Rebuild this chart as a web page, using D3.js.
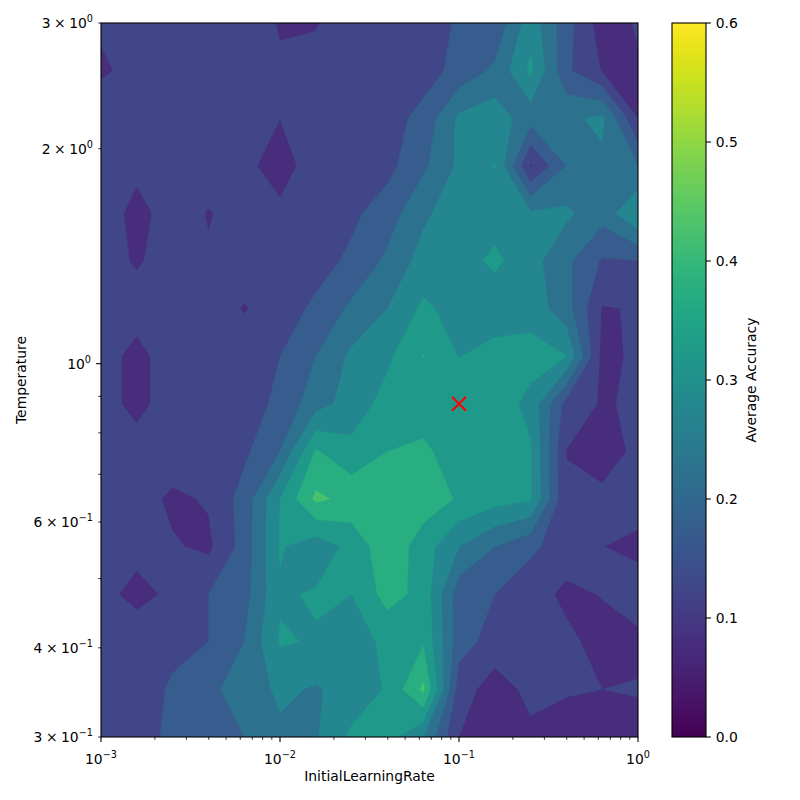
<!DOCTYPE html>
<html><head><meta charset="utf-8">
<script src="https://cdn.jsdelivr.net/npm/d3@7"></script>
<style>body{margin:0;background:#fff} text{font-family:"DejaVu Sans",sans-serif;fill:#000}</style>
</head><body><svg id="c" width="800" height="800"></svg>
<script>
// ---- data ----
const learningRates = [0.001, 0.001585, 0.002512, 0.003981, 0.00631, 0.01, 0.01585, 0.02512, 0.03981, 0.0631, 0.1, 0.1585, 0.2512, 0.3981, 0.631, 1];
const temperatures = [0.3, 0.3498, 0.4078, 0.4755, 0.5543, 0.6463, 0.7536, 0.8786, 1.0244, 1.1943, 1.3925, 1.6235, 1.8929, 2.2069, 2.5731, 3.0];
// average accuracy, one array per temperature (ascending), columns follow learningRates
const accT00 = [.12, .13, .161, .18, .2, .24, .245, .31, .32, .25, .1, .07, .089, .08, .075, .08];
const accT01 = [.12, .12, .158, .19, .22, .26, .245, .27, .305, .41, .125, .075, .114, .104, .1, .104];
const accT02 = [.1, .13, .135, .15, .2, .305, .296, .28, .31, .345, .17, .13, .12, .11, .085, .086];
const accT03 = [.115, .085, .11, .15, .18, .294, .305, .3, .37, .334, .17, .15, .12, .09, .102, .13];
const accT04 = [.12, .115, .105, .09, .17, .305, .27, .315, .385, .326, .25, .2, .16, .125, .101, .085];
const accT05 = [.12, .123, .09, .105, .17, .3, .41, .385, .38, .375, .345, .32, .305, .105, .11, .127];
const accT06 = [.12, .122, .13, .135, .14, .2, .355, .315, .35, .365, .31, .33, .305, .099, .08, .11];
const accT07 = [.12, .085, .125, .125, .13, .16, .23, .27, .32, .31, .352, .33, .285, .13, .095, .108];
const accT08 = [.12, .085, .125, .125, .125, .15, .2, .26, .29, .352, .298, .32, .32, .3, .085, .11];
const accT09 = [.101, .12, .125, .125, .097, .125, .16, .21, .25, .31, .28, .27, .28, .22, .097, .103];
const accT10 = [.12, .095, .12, .105, .12, .125, .13, .16, .21, .27, .28, .31, .27, .21, .145, .15];
const accT11 = [.135, .08, .128, .097, .12, .115, .13, .14, .175, .24, .28, .28, .257, .26, .22, .3];
const accT12 = [.12, .115, .12, .125, .117, .07, .134, .14, .135, .19, .26, .302, .095, .2, .24, .2];
const accT13 = [.14, .125, .125, .125, .12, .101, .12, .125, .13, .165, .26, .28, .22, .24, .26, .1];
const accT14 = [.09, .12, .125, .125, .12, .105, .11, .12, .125, .13, .165, .21, .31, .16, .097, .095];
const accT15 = [.11, .12, .12, .12, .122, .097, .098, .12, .125, .13, .155, .16, .28, .17, .075, .105];
const bestLR = 0.1, bestT = 0.8786;
const levels = [0, 0.05, 0.1, 0.15, 0.2, 0.25, 0.3, 0.35, 0.4, 0.45, 0.5, 0.55];
const colorbarTicks = [0, 0.1, 0.2, 0.3, 0.4, 0.5, 0.6];
const xMajor = [0.001, 0.01, 0.1, 1];
const xMajorLabels = [["10", "\u22123"], ["10", "\u22122"], ["10", "\u22121"], ["10", "0"]];
const yTicksLabeled = [0.3, 0.4, 0.6, 1, 2, 3];
const yTickLabels = [["3\u2005\u00d7\u200510", "\u22121"], ["4\u2005\u00d7\u200510", "\u22121"], ["6\u2005\u00d7\u200510", "\u22121"], ["10", "0"], ["2\u2005\u00d7\u200510", "0"], ["3\u2005\u00d7\u200510", "0"]];
const yMinorUnlabeled = [0.5, 0.7, 0.8, 0.9];

const rows = [accT00, accT01, accT02, accT03, accT04, accT05, accT06, accT07, accT08, accT09, accT10, accT11, accT12, accT13, accT14, accT15];

// ---- layout ----
const svg = d3.select("#c");
const L = 101, R = 638, T = 23, B = 737;
const x = d3.scaleLog().domain([0.001, 1]).range([L, R]);
const y = d3.scaleLog().domain([0.3, 3]).range([B, T]);
const vmax = 0.6;
const color = v => d3.interpolateViridis(v / vmax);

// padded grid for contouring
const nx = learningRates.length, ny = temperatures.length;
const W = nx + 2, H = ny + 2;
const grid = new Array(W * H);
for (let j = 0; j < H; j++) for (let i = 0; i < W; i++) {
  const si = Math.min(nx - 1, Math.max(0, i - 1));
  const sj = Math.min(ny - 1, Math.max(0, j - 1));
  grid[j * W + i] = rows[sj][si];
}
const lx0 = Math.log10(learningRates[0]), lxs = (Math.log10(learningRates[nx - 1]) - lx0) / (nx - 1);
const ly0 = Math.log10(temperatures[0]), lys = (Math.log10(temperatures[ny - 1]) - ly0) / (ny - 1);
const proj = d3.geoTransform({
  point: function (cx, cy) {
    const gx = cx - 1.5, gy = cy - 1.5;
    this.stream.point(x(Math.pow(10, lx0 + gx * lxs)), y(Math.pow(10, ly0 + gy * lys)));
  }
});
const path = d3.geoPath(proj);
const contours = d3.contours().size([W, H]).thresholds(levels)(grid);

svg.append("clipPath").attr("id", "clip").append("rect")
  .attr("x", L).attr("y", T).attr("width", R - L).attr("height", B - T);
const g = svg.append("g").attr("clip-path", "url(#clip)");
contours.forEach(c => {
  if (!c.coordinates.length) return;
  g.append("path").attr("d", path(c))
    .attr("fill", color(c.value + 0.025))
    .attr("stroke", color(c.value + 0.025)).attr("stroke-width", 0.3);
});

// best point marker
const bx = x(bestLR), by = y(bestT), ms = 7;
svg.append("path").attr("d", `M${bx - ms},${by - ms}L${bx + ms},${by + ms}M${bx - ms},${by + ms}L${bx + ms},${by - ms}`)
  .attr("stroke", "red").attr("stroke-width", 2).attr("fill", "none");

// frame
svg.append("rect").attr("x", L).attr("y", T).attr("width", R - L).attr("height", B - T)
  .attr("fill", "none").attr("stroke", "#000").attr("stroke-width", 1.1);

const FS = 13.9, SFS = 9.7;
function supText(sel, base, sup) {
  sel.append("tspan").text(base);
  sel.append("tspan").attr("font-size", SFS).attr("dy", -6).text(sup);
}

// x ticks
const xMinor = [];
[-3, -2, -1].forEach(d => { for (let m = 2; m <= 9; m++) xMinor.push(m * Math.pow(10, d)); });
const xa = svg.append("g");
xMajor.forEach((v, i) => {
  xa.append("line").attr("x1", x(v)).attr("x2", x(v)).attr("y1", B).attr("y2", B + 4.9).attr("stroke", "#000").attr("stroke-width", 1.1);
  const t = xa.append("text").attr("x", x(v)).attr("y", 764).attr("font-size", FS).attr("text-anchor", "middle");
  supText(t, xMajorLabels[i][0], xMajorLabels[i][1]);
});
xMinor.forEach(v => {
  xa.append("line").attr("x1", x(v)).attr("x2", x(v)).attr("y1", B).attr("y2", B + 2.8).attr("stroke", "#000").attr("stroke-width", 0.8);
});

// y ticks
const ya = svg.append("g");
yTicksLabeled.forEach((v, i) => {
  const major = v === 1;
  ya.append("line").attr("x1", L).attr("x2", L - (major ? 4.9 : 2.8)).attr("y1", y(v)).attr("y2", y(v)).attr("stroke", "#000").attr("stroke-width", major ? 1.1 : 0.8);
  const t = ya.append("text").attr("x", major ? 91 : 93).attr("y", y(v) + 5).attr("font-size", FS).attr("text-anchor", "end");
  supText(t, yTickLabels[i][0], yTickLabels[i][1]);
});
yMinorUnlabeled.forEach(v => {
  ya.append("line").attr("x1", L).attr("x2", L - 2.8).attr("y1", y(v)).attr("y2", y(v)).attr("stroke", "#000").attr("stroke-width", 0.8);
});

svg.append("text").attr("x", (L + R) / 2).attr("y", 781).attr("font-size", FS).attr("text-anchor", "middle").text("InitialLearningRate");
svg.append("text").attr("transform", `translate(26,${(T + B) / 2}) rotate(-90)`).attr("font-size", FS).attr("text-anchor", "middle").text("Temperature");

// colorbar
const cbL = 672, cbR = 706;
const cb = d3.scaleLinear().domain([0, vmax]).range([B, T]);
const grad = svg.append("defs").append("linearGradient").attr("id", "vir").attr("x1", 0).attr("y1", 1).attr("x2", 0).attr("y2", 0);
d3.range(0, 1.0001, 0.02).forEach(t => grad.append("stop").attr("offset", t).attr("stop-color", d3.interpolateViridis(t)));
svg.append("rect").attr("x", cbL).attr("y", T).attr("width", cbR - cbL).attr("height", B - T).attr("fill", "url(#vir)");
svg.append("rect").attr("x", cbL).attr("y", T).attr("width", cbR - cbL).attr("height", B - T).attr("fill", "none").attr("stroke", "#000").attr("stroke-width", 1.1);
colorbarTicks.forEach(v => {
  svg.append("line").attr("x1", cbR).attr("x2", cbR + 4.9).attr("y1", cb(v)).attr("y2", cb(v)).attr("stroke", "#000").attr("stroke-width", 1.1);
  svg.append("text").attr("x", cbR + 9.7).attr("y", cb(v) + 5).attr("font-size", FS).text(v.toFixed(1));
});
svg.append("text").attr("transform", `translate(756,${(T + B) / 2}) rotate(-90)`).attr("font-size", FS).attr("text-anchor", "middle").text("Average Accuracy");
</script></body></html>
